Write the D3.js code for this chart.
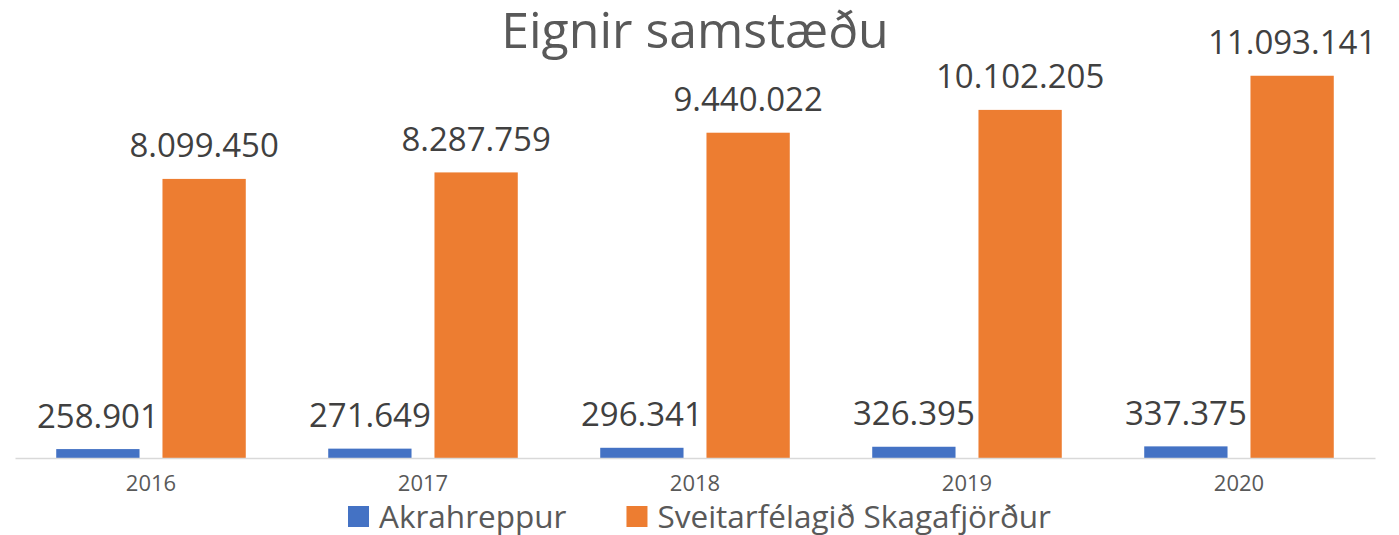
<!DOCTYPE html>
<html>
<head>
<meta charset="utf-8">
<script src="https://cdn.jsdelivr.net/npm/d3@7"></script>
<style>
  body { margin: 0; background: #fff; }
  svg { display: block; font-family: "Open Sans", sans-serif; }
</style>
</head>
<body>
<script>
  // data
  const years = ["2016", "2017", "2018", "2019", "2020"];
  const seriesNames = ["Akrahreppur", "Sveitarfélagið Skagafjörður"];
  const akrahreppur = [258901, 271649, 296341, 326395, 337375];
  const skagafjordur = [8099450, 8287759, 9440022, 10102205, 11093141];
  const colors = ["#4472C4", "#ED7D31"];

  const w = 1399;
  const h = 535;
  const left = 15, right = 1375;
  const baseY = 458, topY = 44.5;

  const rows = years.map((y, i) => ({ year: y, values: [akrahreppur[i], skagafjordur[i]] }));

  const is = d3.formatLocale({ decimal: ",", thousands: ".", grouping: [3], currency: ["", " kr."] });
  const fmt = is.format(",d");

  const x0 = d3.scaleBand()
    .domain(years)
    .range([left, right])
    .padding(0);

  const x1 = d3.scaleBand()
    .domain(d3.range(seriesNames.length))
    .range([0, x0.bandwidth()])
    .paddingInner(0.216)
    .paddingOuter(0.388);

  const yScale = d3.scaleLinear()
    .domain([0, 12000000])
    .range([baseY, topY]);

  const svg = d3.select("body")
    .append("svg")
    .attr("width", w)
    .attr("height", h);

  // title
  svg.append("text")
    .attr("x", 695)
    .attr("y", 48)
    .attr("text-anchor", "middle")
    .attr("font-size", 50)
    .attr("fill", "#595959")
    .text("Eignir samstæðu");

  const groups = svg.selectAll("g.year")
    .data(rows)
    .enter()
    .append("g")
    .attr("class", "year")
    .attr("transform", (d) => "translate(" + x0(d.year) + ",0)");

  groups.selectAll("rect")
    .data((d) => d.values.map((v, k) => ({ k: k, v: v })))
    .enter()
    .append("rect")
    .attr("x", (d) => x1(d.k))
    .attr("y", (d) => yScale(d.v))
    .attr("width", x1.bandwidth())
    .attr("height", (d) => baseY - yScale(d.v))
    .attr("fill", (d) => colors[d.k]);

  groups.selectAll("text.lbl")
    .data((d) => d.values.map((v, k) => ({ k: k, v: v })))
    .enter()
    .append("text")
    .attr("class", "lbl")
    .attr("x", (d) => x1(d.k) + x1.bandwidth() / 2)
    .attr("y", (d) => yScale(d.v) - 21.5)
    .attr("text-anchor", "middle")
    .attr("font-size", 33)
    .attr("fill", "#404040")
    .text((d) => fmt(d.v));

  // x axis
  const xAxis = d3.axisBottom(x0).tickSize(0).tickPadding(17);
  const ax = svg.append("g")
    .attr("transform", "translate(0," + baseY + ")")
    .call(xAxis);
  ax.select(".domain").attr("stroke", "#D9D9D9").attr("stroke-width", 1.5);
  ax.selectAll("text")
    .attr("font-family", "Open Sans, sans-serif")
    .attr("font-size", 22)
    .attr("fill", "#595959");

  // legend
  const legend = svg.append("g");
  const items = legend.selectAll("g")
    .data(seriesNames)
    .enter()
    .append("g");
  items.append("rect")
    .attr("width", 21)
    .attr("height", 21)
    .attr("y", 506)
    .attr("fill", (d, i) => colors[i]);
  items.append("text")
    .attr("x", 31)
    .attr("y", 528)
    .attr("font-size", 31.5)
    .attr("fill", "#595959")
    .text((d) => d);

  const widths = [];
  items.each(function () {
    const tw = d3.select(this).select("text").node().getComputedTextLength();
    widths.push(31 + tw);
  });
  const gapBetween = 60;
  const total = d3.sum(widths) + gapBetween * (widths.length - 1);
  let start = 699.5 - total / 2;
  items.attr("transform", (d, i) => {
    const t = "translate(" + start + ",0)";
    start += widths[i] + gapBetween;
    return t;
  });
</script>
</body>
</html>
